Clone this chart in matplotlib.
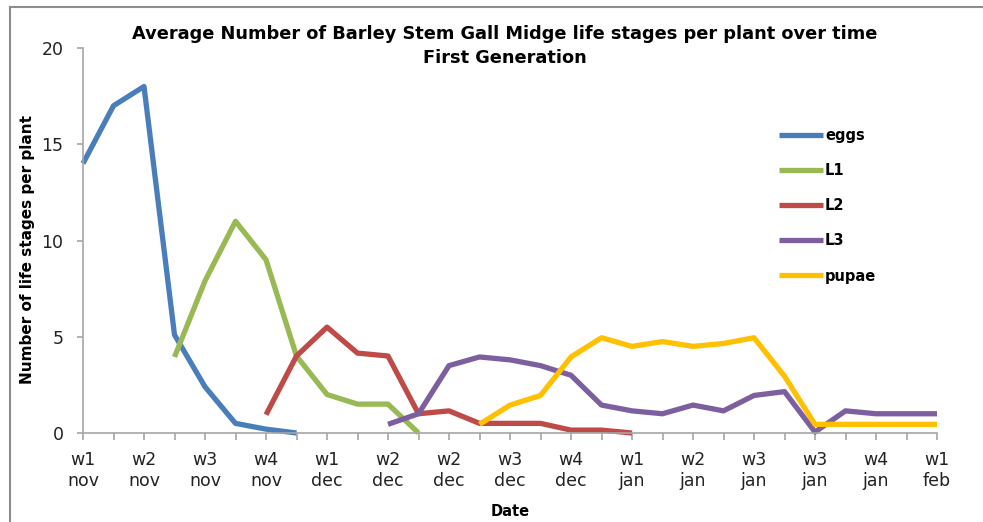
import numpy as np
import matplotlib
matplotlib.use("Agg")
import matplotlib.pyplot as plt
from matplotlib.lines import Line2D

nan = np.nan

# tick labels (one label every second point)
weeks = ["w1\nnov", "w2\nnov", "w3\nnov", "w4\nnov", "w1\ndec", "w2\ndec", "w2\ndec",
         "w3\ndec", "w4\ndec", "w1\njan", "w2\njan", "w3\njan", "w3\njan", "w4\njan", "w1\nfeb"]

eggs = [14, 17, 18, 5.1, 2.4, 0.5, 0.2, 0.0] + [nan] * 21
L1 = [nan] * 3 + [3.95, 7.9, 11, 9.0, 4.0, 2.0, 1.5, 1.5, 0.0] + [nan] * 17
L2 = [nan] * 6 + [0.95, 4.0, 5.5, 4.15, 4.0, 1.0, 1.15, 0.5, 0.5, 0.5, 0.15, 0.15, 0.0] + [nan] * 10
L3 = [nan] * 10 + [0.45, 1.0, 3.5, 3.95, 3.8, 3.5, 3.0, 1.45, 1.15, 1.0, 1.45, 1.15,
                   1.95, 2.15, 0.05, 1.15, 1.0, 1.0, 1.0]
pupae = [nan] * 13 + [0.45, 1.45, 1.95, 3.95, 4.95, 4.5, 4.75, 4.5, 4.65, 4.95, 2.95,
                      0.45, 0.45, 0.45, 0.45, 0.45]

series = [("eggs", eggs, "#4a7ebb"),
          ("L1", L1, "#98b954"),
          ("L2", L2, "#be4b48"),
          ("L3", L3, "#7d5fa0"),
          ("pupae", pupae, "#ffc000")]

fig = plt.figure(figsize=(9.83, 5.22), dpi=100, facecolor="white")
ax = fig.add_axes([83 / 983, 1 - 433 / 522, (937 - 83) / 983, (433 - 48) / 522])

x = np.arange(len(eggs))
for name, vals, col in series:
    ax.plot(x, vals, color=col, lw=3.8, label=name, clip_on=False, solid_capstyle="butt")

ax.set_xlim(0, len(eggs) - 1)
ax.set_ylim(0, 20)
ax.set_yticks([0, 5, 10, 15, 20])
ax.set_xticks(np.arange(0, len(eggs), 2))
ax.set_xticklabels(weeks)
ax.set_xticks(np.arange(1, len(eggs), 2), minor=True)

for s in ["top", "right"]:
    ax.spines[s].set_visible(False)
for s in ["left", "bottom"]:
    ax.spines[s].set_color("#a6a6a6")
    ax.spines[s].set_linewidth(1.2)

ax.tick_params(axis="x", which="both", length=5, width=1.2, color="#a6a6a6", pad=8,
               labelsize=12.5, labelcolor="#222222")
ax.tick_params(axis="y", length=4, width=1.2, color="#a6a6a6", pad=10,
               labelsize=12.5, labelcolor="#222222")

ax.set_xlabel("Date", fontsize=10.5, fontweight="bold", labelpad=10)
fig.text(28 / 983, 1 - 250 / 522, "Number of life stages per plant", rotation=90,
         ha="center", va="center", fontsize=11, fontweight="bold")

fig.text(505 / 983, 1 - 34 / 522, "Average Number of Barley Stem Gall Midge life stages per plant over time",
         ha="center", va="center", fontsize=12.8, fontweight="bold")
fig.text(505 / 983, 1 - 58 / 522, "First Generation",
         ha="center", va="center", fontsize=12.8, fontweight="bold")

ax.legend(loc="upper left", bbox_to_anchor=(779 / 983, 1 - 128 / 522),
          bbox_transform=fig.transFigure, frameon=False,
          prop={"size": 10.5, "weight": "bold"}, handlelength=3.0, handletextpad=0.15,
          labelspacing=1.38, borderpad=0, borderaxespad=0)

# outer frame of the chart area
fig.add_artist(Line2D([10 / 983, 10 / 983], [0, 1 - 7 / 522], color="#8c8c8c", lw=1.5))
fig.add_artist(Line2D([10 / 983, 1], [1 - 7 / 522, 1 - 7 / 522], color="#8c8c8c", lw=1.5))

fig.savefig("out.png", dpi=100, facecolor="white")
